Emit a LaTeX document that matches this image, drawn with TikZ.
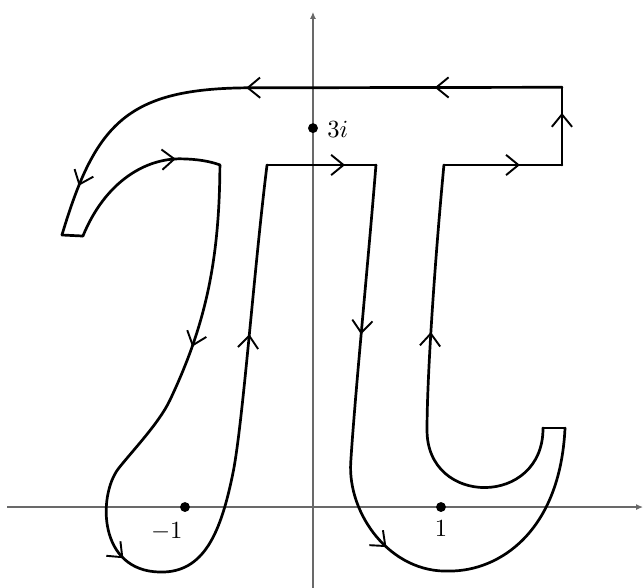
\documentclass[tikz,border=0pt]{standalone}
\usepackage{tikz}
\usetikzlibrary{arrows.meta, decorations.markings}
\definecolor{axiscol}{RGB}{105,105,105}
\definecolor{pathcol}{RGB}{0,0,0}
\tikzset{
  contour/.style={pathcol, line width=1.2pt, line cap=round, line join=round},
  flow/.style={postaction={decorate, decoration={markings,
      mark=at position #1 with {\arrow{Straight Barb[length=5.5pt, width=9pt, line width=0.85pt]}}}}},
  axis/.style={axiscol, line width=0.5pt, -{Latex[length=3pt, width=2.6pt]}},
  pole/.style={circle, fill=pathcol, inner sep=0pt, minimum size=4.4pt},
  lbl/.style={font=\fontsize{11}{13}\selectfont}
}

\begin{document}
\begin{tikzpicture}[x=2cm, y=2cm]

  \useasboundingbox (-2.445,-0.625) rectangle (2.586,3.961);

  % --- axes of the complex plane ----------------------------------------
  \draw[axis] (-2.39,0) -- (2.578,0);
  \draw[axis] (0,-0.63) -- (0,3.867);

  % --- corners of the pi-shaped contour -----------------------------------
  \coordinate (BarBR)  at (1.945,2.672);
  \coordinate (BarTR)  at (1.945,3.279);
  \coordinate (HookOut) at (-1.961,2.125);
  \coordinate (HookIn)  at (-1.797,2.117);
  \coordinate (LegLTL) at (-0.727,2.672);
  \coordinate (LegLTR) at (-0.359,2.672);
  \coordinate (LegRTL) at (0.492,2.672);
  \coordinate (LegRTR) at (1.023,2.672);
  \coordinate (TailOut) at (1.969,0.617);
  \coordinate (TailIn)  at (1.797,0.617);

  % --- top bar and the hook on the left -----------------------------------
  \draw[contour, flow=0.67] (BarBR) -- (BarTR);
  \draw[contour, flow=0.22, flow=0.546, flow=0.91]
    (BarTR) -- (-0.5,3.275) .. controls (-1.45,3.27) and (-1.70,3.0) .. (HookOut);
  \draw[contour] (HookOut) -- (HookIn);
  \draw[contour, flow=0.74]
    (HookIn) .. controls (-1.62,2.55) and (-1.3,2.725) .. (-1.03,2.72)
             .. controls (-0.9,2.718) and (-0.8,2.7) .. (LegLTL);

  % --- left leg, round the foot near -1 -----------------------------------
  \draw[contour, flow=0.203, flow=0.467, flow=0.813]
    (LegLTL) .. controls (-0.73,1.9) and (-0.85,1.4) .. (-1.117,0.836)
             .. controls (-1.202,0.656) and (-1.41,0.44) .. (-1.52,0.3)
             .. controls (-1.68,0.09) and (-1.68,-0.5) .. (-1.195,-0.508)
             .. controls (-0.85,-0.515) and (-0.72,-0.2) .. (-0.625,0.266)
             .. controls (-0.549,0.639) and (-0.459,1.87) .. (LegLTR);
  \draw[contour, flow=0.716] (LegLTR) -- (LegRTL);

  % --- right leg, round the curl near 1 -----------------------------------
  \draw[contour, flow=0.255, flow=0.59]
    (LegRTL) .. controls (0.43,1.9) and (0.33,0.9) .. (0.295,0.35)
             .. controls (0.27,-0.05) and (0.6,-0.52) .. (1.07,-0.5)
             .. controls (1.45,-0.5) and (1.93,-0.2) .. (TailOut);
  \draw[contour] (TailOut) -- (TailIn);
  \draw[contour, flow=0.628]
    (TailIn) .. controls (1.8,0.0) and (0.89,0.0) .. (0.891,0.6)
             .. controls (0.89,1.0) and (0.95,1.9) .. (LegRTR);
  \draw[contour, flow=0.644] (LegRTR) -- (BarBR);

  % --- poles --------------------------------------------------------------
  \node[pole] (MinusOne) at (-1,0) {};
  \node[pole] (One) at (1,0) {};
  \node[pole] (ThreeI) at (0,2.96) {};
  \node[lbl, anchor=north east] (MinusOneLbl) at (-0.957,-0.058) {$-1$};
  \node[lbl, anchor=north] (OneLbl) at (1,-0.043) {$1$};
  \node[lbl, anchor=west] (ThreeILbl) at (0.05,2.953) {$3i$};

\end{tikzpicture}
\end{document}
